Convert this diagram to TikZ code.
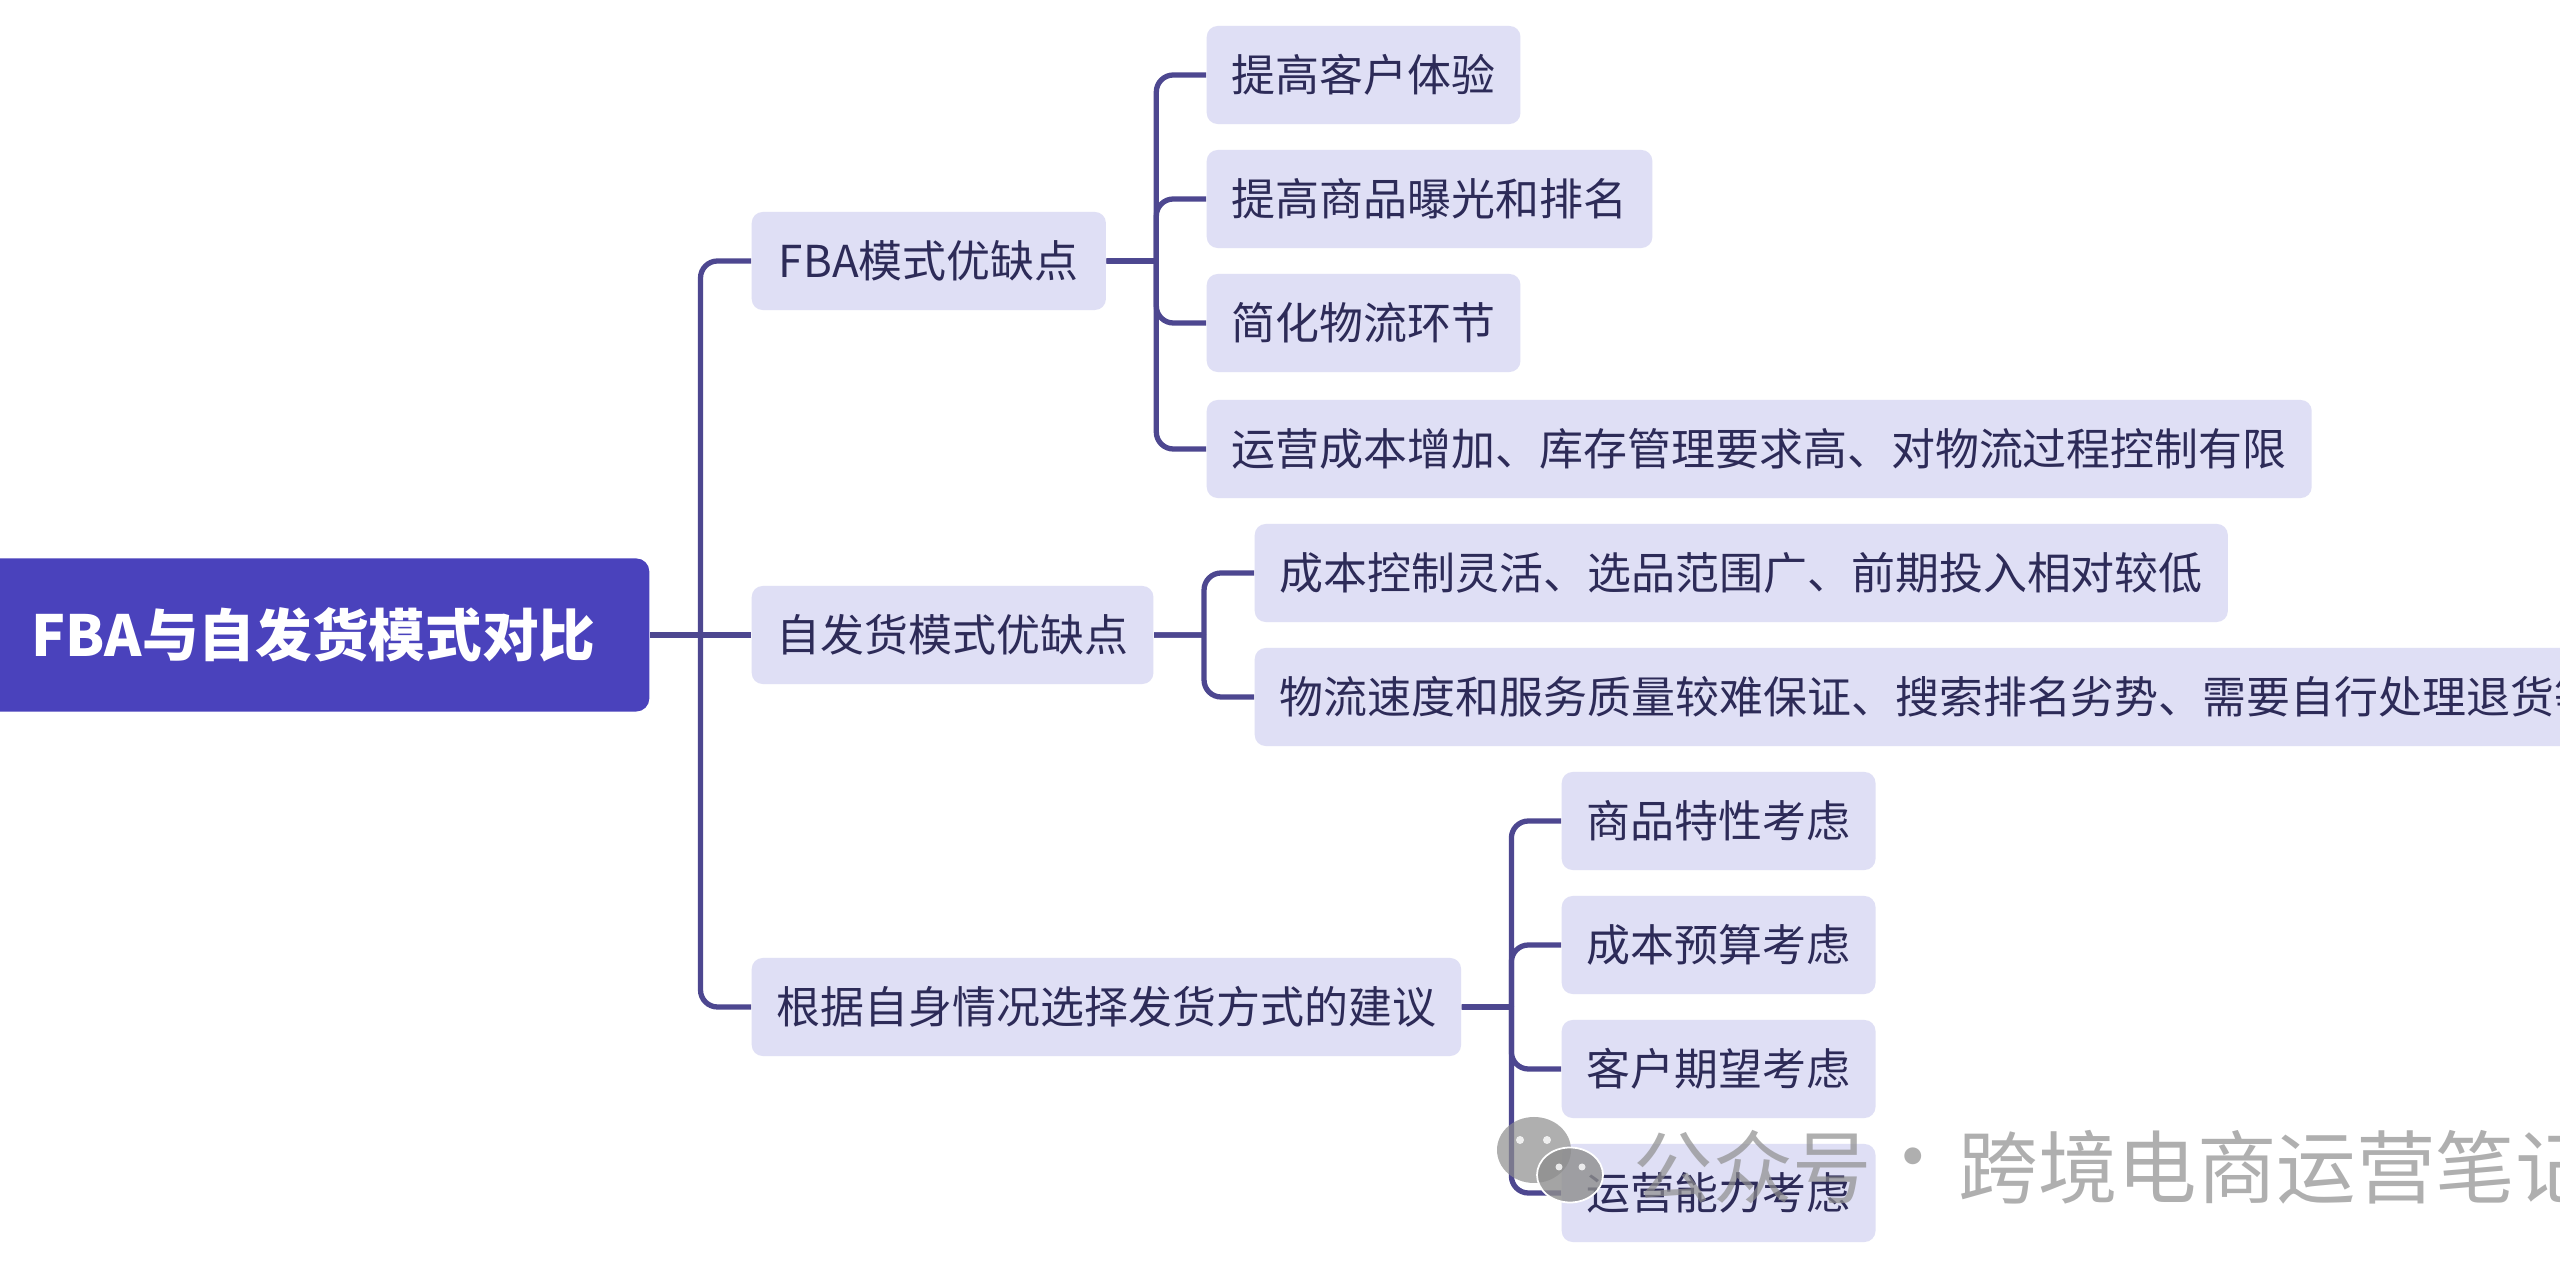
\documentclass[tikz,border=0pt]{standalone}
\usepackage{fontspec}
\setmainfont{Noto Sans CJK SC}
\usetikzlibrary{calc}
\definecolor{rootfill}{HTML}{4A42BC}
\definecolor{boxfill}{HTML}{DFDFF5}
\definecolor{linkcol}{HTML}{4D4790}
\definecolor{textcol}{HTML}{2D2B58}
\definecolor{markcol}{HTML}{8E8E8E}
\tikzset{
  topic/.style={anchor=west,fill=boxfill,text=textcol,rounded corners=.11cm,minimum height=.98cm,inner xsep=.25cm,inner ysep=0pt,font=\fontsize{12.5}{15}\selectfont},
  rootbox/.style={anchor=east,fill=rootfill,text=white,rounded corners=.13cm,minimum height=1.53cm,inner xsep=.54cm,inner ysep=0pt,font=\fontsize{16.1}{19}\selectfont\bfseries},
  stem/.style={draw=linkcol,line width=1.5pt},
  link/.style={stem,rounded corners=.17cm,to path={let \p1=(\tikztostart.east),\p2=(\tikztotarget.west) in (\p1) -- ({.5*\x1+.5*\x2},\y1) ({.5*\x1+.5*\x2},\y1) |- (\p2)}},
  wmark/.style={text=markcol,opacity=.7,inner sep=0pt,font=\fontsize{22.6}{27}\selectfont},
  eye/.style={fill=white,opacity=.8}
}
\begin{document}
\begin{tikzpicture}[x=.01cm,y=-.01cm]
    \useasboundingbox (0,0) rectangle (2560,1280);
    \clip (0,0) rectangle (2560,1280);
    \fill[white] (0,0) rectangle (2560,1280);
    \node[rootbox](root) at (650,635) {FBA与自发货模式对比};
    \node[topic,minimum width=3.54cm](m1) at (751,261) {FBA模式优缺点};
    \node[topic](m2) at (751,635) {自发货模式优缺点};
    \node[topic](m3) at (751,1007) {根据自身情况选择发货方式的建议};
    \node[topic](a1) at (1206,75) {提高客户体验};
    \node[topic](a2) at (1206,199) {提高商品曝光和排名};
    \node[topic](a3) at (1206,323) {简化物流环节};
    \node[topic](a4) at (1206,449) {运营成本增加、库存管理要求高、对物流过程控制有限};
    \node[topic](b1) at (1254,573) {成本控制灵活、选品范围广、前期投入相对较低};
    \node[topic](b2) at (1254,697) {物流速度和服务质量较难保证、搜索排名劣势、需要自行处理退货等};
    \node[topic](c1) at (1561,821) {商品特性考虑};
    \node[topic](c2) at (1561,945) {成本预算考虑};
    \node[topic](c3) at (1561,1069) {客户期望考虑};
    \node[topic](c4) at (1561,1193) {运营能力考虑};
    \path[link] (root) edge (m1);
    \draw[stem] (root.east) -- (m2.west);
    \path[link] (root) edge (m3);
    \path[link] (m1) edge (a1);
    \path[link] (m1) edge (a2);
    \path[link] (m1) edge (a3);
    \path[link] (m1) edge (a4);
    \path[link] (m2) edge (b1);
    \path[link] (m2) edge (b2);
    \path[link] (m3) edge (c1);
    \path[link] (m3) edge (c2);
    \path[link] (m3) edge (c3);
    \path[link] (m3) edge (c4);
    \fill[markcol,opacity=.7] (1534,1150) ellipse (37 and 33);
    \filldraw[fill=markcol,draw=white,line width=.5pt,fill opacity=.8] (1570,1175) ellipse (33 and 27.5);
    \fill[eye] (1520,1140) circle (4);
    \fill[eye] (1547,1140) circle (4);
    \fill[eye] (1559,1167) circle (3.5);
    \fill[eye] (1582,1167) circle (3.5);
    \node[wmark,anchor=west](mk1) at (1633,1167) {公众号};
    \node[wmark](mk2) at (1913,1167) {·};
    \node[wmark,anchor=west](mk3) at (1958,1167) {跨境电商运营笔记};
\end{tikzpicture}
\end{document}
